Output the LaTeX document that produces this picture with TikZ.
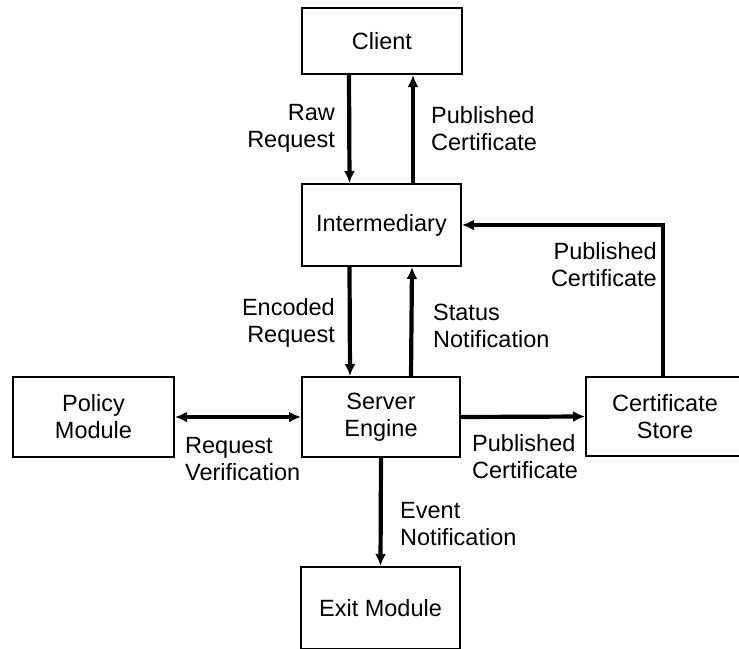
\documentclass[tikz,border=0pt]{standalone}
\usepackage{fontspec}
\setmainfont{Liberation Sans}
\usetikzlibrary{arrows.meta,calc}
\begin{document}
\begin{tikzpicture}[x=1pt,y=-1pt,
  every node/.style={font=\fontsize{23.5}{27}\selectfont},
  box/.style={draw,line width=2pt,rectangle,align=center,inner sep=0pt},
  arr/.style={line width=4.2pt,-{Latex[length=12pt,width=11pt]}},
  darr/.style={line width=4.2pt,{Latex[length=12pt,width=11pt]}-{Latex[length=12pt,width=11pt]}},
  lbl/.style={inner sep=0pt}]
\useasboundingbox (0,0) rectangle (739,648);
\clip (0,0) rectangle (739,648);
\node[box,minimum width=160pt,minimum height=66pt] (client) at (382,41) {Client};
\node[box,minimum width=159pt,minimum height=82pt] (inter) at (381.5,225) {Intermediary};
\node[box,minimum width=158pt,minimum height=80pt] (server) at (381,417) {Server\\Engine};
\node[box,minimum width=161pt,minimum height=80pt] (policy) at (93.5,417) {Policy\\Module};
\node[box,minimum width=158pt,minimum height=79pt] (cert) at (665,416.5) {Certificate\\Store};
\node[box,minimum width=159pt,minimum height=82pt] (exit) at (380.5,608) {Exit Module};
\draw[arr] ([xshift=-33pt]client.south) -- ([xshift=-32pt]inter.north);
\draw[arr] ([xshift=31.5pt]inter.north) -- ([xshift=31pt]client.south);
\draw[arr] ([xshift=-32pt]inter.south) -- ([xshift=-31pt]server.north);
\draw[arr] ([xshift=30pt]server.north) -- ([xshift=30.5pt]inter.south);
\draw[darr] (policy.east) -- (server.west);
\draw[arr] (server.east) -- (cert.west);
\draw[arr] (server.south) -- (exit.north);
\draw[arr] ([xshift=-2pt]cert.north) |- (inter.east);
\node[lbl,align=right,anchor=east] (l1) at (335,128.5) {Raw\\Request};
\node[lbl,align=left,anchor=west] (l2) at (431,128.5) {Published\\Certificate};
\node[lbl,align=right,anchor=east] (l3) at (335,322.5) {Encoded\\Request};
\node[lbl,align=left,anchor=west] (l4) at (433,325.5) {Status\\Notification};
\node[lbl,align=right,anchor=east] (l5) at (657,264.5) {Published\\Certificate};
\node[lbl,align=left,anchor=west] (l6) at (185,459.5) {Request\\Verification};
\node[lbl,align=left,anchor=west] (l7) at (472,456.5) {Published\\Certificate};
\node[lbl,align=left,anchor=west] (l8) at (400,524.5) {Event\\Notification};
\end{tikzpicture}
\end{document}
